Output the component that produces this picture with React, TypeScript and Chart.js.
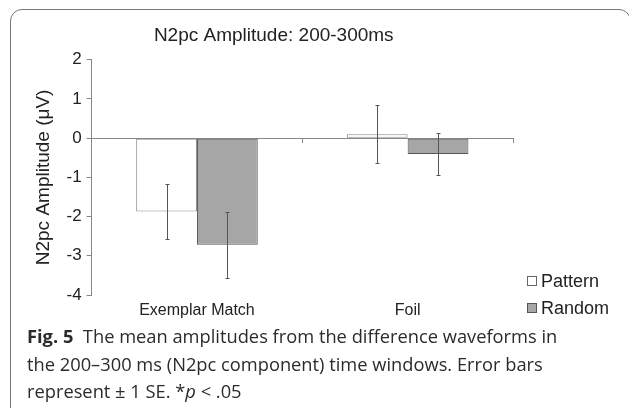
import React, { useEffect, useRef } from 'react';
import { Chart, registerables } from 'chart.js';

Chart.register(...registerables);

const categories = ['Exemplar Match', 'Foil'];
const seriesNames = ['Pattern', 'Random'];
const patternMeans = [-1.87, 0.1];
const patternSE = [0.7, 0.74];
const randomMeans = [-2.72, -0.4];
const randomSE = [0.84, 0.54];
const yMin = -4;
const yMax = 2;
const yStep = 1;
const titleText = 'N2pc Amplitude: 200-300ms';
const yTitle = 'N2pc Amplitude (\u03bcV)';
const seriesFill = ['#ffffff', '#a6a6a6'];
const seriesBorder = ['#8a8a8a', '#555555'];

const FONT = 'Arial, "Liberation Sans", sans-serif';

const errorBarPlugin = {
  id: 'errorBars',
  afterDatasetsDraw(chart: any) {
    const ctx = chart.ctx;
    const y = chart.scales.y;
    chart.data.datasets.forEach((ds: any, i: number) => {
      const meta = chart.getDatasetMeta(i);
      meta.data.forEach((bar: any, j: number) => {
        const v = ds.data[j];
        const e = ds.errors[j];
        const x = Math.round(bar.x) + 0.5;
        const top = Math.round(y.getPixelForValue(v + e)) + 0.5;
        const bot = Math.round(y.getPixelForValue(v - e)) + 0.5;
        ctx.save();
        ctx.strokeStyle = '#555';
        ctx.lineWidth = 1;
        ctx.beginPath();
        ctx.moveTo(x, top);
        ctx.lineTo(x, bot);
        ctx.moveTo(x - 2, top);
        ctx.lineTo(x + 2, top);
        ctx.moveTo(x - 2, bot);
        ctx.lineTo(x + 2, bot);
        ctx.stroke();
        ctx.restore();
      });
    });
  },
};

export default function App() {
  const ref = useRef<HTMLCanvasElement | null>(null);

  useEffect(() => {
    if (!ref.current) return;
    const chart = new Chart(ref.current, {
      type: 'bar',
      data: {
        labels: categories,
        datasets: [
          {
            label: seriesNames[0],
            data: patternMeans,
            errors: patternSE,
            backgroundColor: seriesFill[0],
            borderColor: seriesBorder[0],
            borderWidth: 1,
            borderSkipped: false,
            categoryPercentage: 0.577,
            barPercentage: 1,
          } as any,
          {
            label: seriesNames[1],
            data: randomMeans,
            errors: randomSE,
            backgroundColor: seriesFill[1],
            borderColor: seriesBorder[1],
            borderWidth: 1,
            borderSkipped: false,
            categoryPercentage: 0.577,
            barPercentage: 1,
          } as any,
        ],
      },
      options: {
        responsive: false,
        animation: false,
        devicePixelRatio: 1,
        layout: { padding: { left: 34.5, right: 41, top: 0, bottom: 3.8 } },
        plugins: {
          legend: { display: false },
          tooltip: { enabled: false },
          title: {
            display: true,
            text: titleText,
            color: '#222',
            font: { family: FONT, size: 19, weight: 'normal', lineHeight: 1.2 },
            padding: { top: 24, bottom: 13 },
          },
        },
        scales: {
          x: {
            offset: true,
            grid: { display: false, drawTicks: false },
            border: { display: false },
            ticks: { color: '#222', font: { family: FONT, size: 16 }, padding: 6 },
          },
          x2: {
            type: 'category',
            labels: categories,
            position: { y: 0 },
            offset: true,
            grid: { offset: true, drawOnChartArea: false, tickLength: 4, color: '#888', lineWidth: 1 },
            border: { display: true, color: '#888', width: 1 },
            ticks: { display: false },
          },
          y: {
            min: yMin,
            max: yMax,
            ticks: {
              stepSize: yStep,
              color: '#222',
              font: { family: FONT, size: 17 },
              padding: 5,
              callback: (v: any) => String(v),
            },
            grid: { drawOnChartArea: false, tickLength: 5, color: '#888' },
            border: { color: '#888' },
            title: {
              display: true,
              text: yTitle,
              color: '#222',
              font: { family: FONT, size: 19, lineHeight: 1 },
              padding: { top: 0, bottom: 8 },
            },
          },
        } as any,
      },
      plugins: [errorBarPlugin],
    });
    return () => chart.destroy();
  }, []);

  return (
    <div style={{ position: 'fixed', left: 0, top: 0, width: 629, height: 408, background: '#fff', overflow: 'hidden' }}>
      <div
        style={{
          position: 'absolute',
          left: 10,
          top: 9,
          width: 621,
          height: 420,
          boxSizing: 'border-box',
          border: '1.5px solid #777',
          borderRadius: 12,
        }}
      />
      <canvas ref={ref} width={554} height={330} style={{ position: 'absolute', left: 0, top: 0 }} />
      {seriesNames.map((name, i) => (
        <div
          key={name}
          style={{
            position: 'absolute',
            left: 527,
            top: 272 + i * 27,
            height: 18,
            display: 'flex',
            alignItems: 'center',
            font: `18px ${FONT}`,
            color: '#222',
            lineHeight: '18px',
          }}
        >
          <span
            style={{
              display: 'inline-block',
              width: 10,
              height: 10,
              boxSizing: 'border-box',
              border: `1px solid ${i === 0 ? '#666' : '#555'}`,
              background: seriesFill[i],
              marginRight: 4,
            }}
          />
          {name}
        </div>
      ))}
      <div
        style={{
          position: 'absolute',
          left: 27,
          top: 322,
          font: '18.3px "Open Sans", sans-serif',
          lineHeight: '27.5px',
          color: '#2b2b2b',
          whiteSpace: 'nowrap',
        }}
      >
        <div>
          <b>Fig. 5</b>&nbsp; The mean amplitudes from the difference waveforms in
        </div>
        <div>the 200–300 ms (N2pc component) time windows. Error bars</div>
        <div>
          represent ± 1 SE. *<i>p</i> &lt; .05
        </div>
      </div>
    </div>
  );
}
